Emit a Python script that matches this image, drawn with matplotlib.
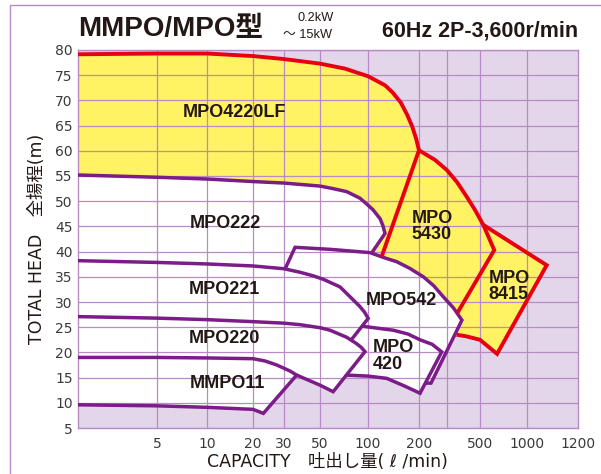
import numpy as np
import matplotlib
matplotlib.use('Agg')
import matplotlib.pyplot as plt
from matplotlib.patches import Rectangle

# capacity axis of the printed chart: roughly logarithmic but with its own spacing
axis_caps = [1.67, 5, 10, 20, 30, 50, 100, 200, 300, 500, 1000, 1200]
axis_pos = [0, 79, 129, 175, 206, 242, 290, 341, 369, 402, 449, 500]
x_ticks = [5, 10, 20, 30, 50, 100, 200, 500, 1000, 1200]
x_grid = [5, 10, 20, 30, 50, 100, 200, 300, 500, 1000]
y_ticks = list(range(5, 85, 5))

# red outlines (capacity l/min, head m)
lf_top_q = [1.67, 5, 10, 20, 30, 37.7, 50, 71.8, 100, 126, 139.5, 156, 170, 182, 192, 200]
lf_top_h = [79.15, 79.3, 79.3, 78.8, 78.2, 77.8, 77.3, 76.3, 74.8, 73.0, 71.6, 69.6, 67.2, 64.9, 62.5, 60.1]
m5430_right_q = [200, 252, 299, 350, 407, 462, 525]
m5430_right_h = [60.1, 58.2, 56.2, 53.8, 50.9, 48.3, 45.3]
m5430_left_q = [200, 120.4]
m5430_left_h = [60.1, 39.0]
m5430_split_q = [525, 617, 352]
m5430_split_h = [45.3, 40.3, 27.8]
m8415_q = [525, 1073, 643, 500, 403, 348]
m8415_h = [45.3, 37.3, 19.7, 22.5, 23.2, 23.5]

# purple outlines
p222_q = [1.67, 5, 10, 20, 30, 50, 60.3, 73.5, 89, 97.7, 107, 118, 122.6, 126, 105]
p222_h = [55.2, 54.75, 54.4, 53.9, 53.6, 53.0, 52.5, 51.9, 50.6, 49.5, 48.3, 46.5, 45.1, 43.6, 39.7]
p542_q = [30.4, 35.1, 57.8, 102.7, 124.3, 147.6, 177, 213, 248, 284, 332, 378, 238, 220]
p542_h = [36.5, 40.85, 40.45, 39.8, 38.8, 38.0, 36.65, 35.0, 33.2, 31.05, 28.8, 26.4, 13.9, 13.9]
p221_q = [1.67, 5, 10, 20, 30, 37.7, 45.3, 52.5, 66.7, 77.1, 89, 95, 100.3, 79]
p221_h = [38.2, 37.85, 37.55, 37.15, 36.6, 35.9, 35.2, 34.5, 33.0, 31.05, 29.1, 28.0, 26.75, 22.6]
p220_q = [1.67, 5, 10, 20, 30, 37.7, 50, 57.8, 73.5, 84.2, 90.7, 95.7, 60.5, 50, 35.9]
p220_h = [27.1, 26.8, 26.5, 26.1, 25.8, 25.5, 24.9, 24.4, 23.0, 21.8, 21.0, 20.15, 12.2, 13.5, 15.5]
p420_q = [91.6, 141, 172, 203, 242, 278, 203, 165, 129, 100, 73.3]
p420_h = [25.2, 24.4, 23.65, 22.5, 21.6, 20.1, 11.9, 13.3, 14.85, 15.3, 15.5]
p11_q = [1.67, 5, 10, 20, 23.4, 27.3, 32.7, 35.9, 22.9, 20, 10, 5, 1.67]
p11_h = [19.0, 19.0, 18.9, 18.75, 18.3, 17.5, 16.3, 15.5, 7.9, 8.7, 9.1, 9.4, 9.6]

# model labels: (text, capacity, head, align)
labels = [
    ('MPO4220LF', 15.2, 67.5, 'center'),
    ('MPO222', 13.1, 45.6, 'center'),
    ('MPO221', 12.9, 32.4, 'center'),
    ('MPO220', 13.1, 22.7, 'center'),
    ('MMPO11', 13.6, 13.9, 'center'),
    ('MPO542', 156.7, 30.2, 'center'),
    ('MPO\n420', 107, 19.3, 'left'),
    ('MPO\n5430', 181, 45.0, 'left'),
    ('MPO\n8415', 565, 33.1, 'left'),
]

RED = '#e60012'
PURPLE = '#7b1c89'
YELLOW = '#fff263'
LAVENDER = '#e4d6ea'
GRID = '#b88ac6'
TXT = '#231815'

log_caps = np.log10(axis_caps)


def fwd(x):
    x = np.clip(np.asarray(x, dtype=float), 1e-3, None)
    return np.interp(np.log10(x), log_caps, axis_pos)


def inv(p):
    return 10 ** np.interp(np.asarray(p, dtype=float), axis_pos, log_caps)


fig = plt.figure(figsize=(6.01, 4.74), dpi=100)
ax = fig.add_axes([78 / 601, 46 / 474, 500 / 601, 378 / 474])
ax.set_xscale('function', functions=(fwd, inv))
ax.set_xlim(1.67, 1200)
ax.set_ylim(5, 80)
ax.set_facecolor(LAVENDER)

# yellow area: red top, MPO5430 / MPO8415 outline, closed under the white area
n = len(p542_q)
yq = lf_top_q + m5430_right_q[1:] + m8415_q[1:] + p542_q[n - 3:4:-1] + p222_q[::-1]
yh = lf_top_h + m5430_right_h[1:] + m8415_h[1:] + p542_h[n - 3:4:-1] + p222_h[::-1]
ax.fill(yq, yh, color=YELLOW, lw=0, zorder=1)

# white area of the small models
wq = p222_q + p542_q[5:] + p420_q[6:] + p220_q[12:] + p11_q[8:]
wh = p222_h + p542_h[5:] + p420_h[6:] + p220_h[12:] + p11_h[8:]
ax.fill(wq, wh, color='white', lw=0, zorder=1)

# grid
for v in x_grid:
    ax.axvline(v, color=GRID, lw=0.9, zorder=1.5)
for v in y_ticks:
    ax.axhline(v, color=GRID, lw=0.9, zorder=1.5)

ax.set_xticks(x_ticks)
ax.set_xticklabels([str(v) for v in x_ticks])
ax.xaxis.set_minor_locator(matplotlib.ticker.NullLocator())
ax.set_yticks(y_ticks)
ax.tick_params(which='both', length=0)
ax.tick_params(axis='x', pad=6.5, labelsize=10, labelcolor='#3a3a3a')
ax.tick_params(axis='y', pad=3.8, labelsize=10, labelcolor='#3a3a3a')
for s in ax.spines.values():
    s.set_color(GRID)
    s.set_linewidth(1.0)

for q, h in [(p222_q, p222_h), (p221_q, p221_h), (p220_q, p220_h), (p11_q, p11_h),
             (p542_q, p542_h), (p420_q, p420_h)]:
    ax.plot(q, h, color=PURPLE, lw=2.5, solid_joinstyle='miter', solid_capstyle='butt', zorder=3)

for q, h in [(lf_top_q + m5430_right_q[1:] + m8415_q[1:], lf_top_h + m5430_right_h[1:] + m8415_h[1:]),
             (m5430_left_q, m5430_left_h), (m5430_split_q, m5430_split_h)]:
    ax.plot(q, h, color=RED, lw=2.8, solid_joinstyle='miter', solid_capstyle='butt', zorder=4)

for txt, q, h, al in labels:
    ax.text(q, h, txt, ha=al, va='center', fontsize=13, fontweight='bold',
            family='Liberation Sans', color=TXT, linespacing=0.95, zorder=5)

# titles
fam = ['Liberation Sans', 'Noto Sans CJK JP']
fig.text(78 / 601, 1 - 29 / 474, 'MMPO/MPO型', fontsize=20, fontweight='bold',
         family=fam, color=TXT, ha='left', va='center')
fig.text(297 / 601, 1 - 18 / 474, '0.2kW', fontsize=9.2, family=fam, color=TXT,
         ha='left', va='center')
fig.text(283 / 601, 1 - 35 / 474, '～ 15kW', fontsize=9.2, family=fam, color=TXT,
         ha='left', va='center')
fig.text(578 / 601, 1 - 31 / 474, '60Hz 2P-3,600r/min', fontsize=15.5, fontweight='bold',
         family=fam, color=TXT, ha='right', va='center')

lab_fam = ['DejaVu Sans', 'Noto Sans CJK JP']
fig.text(37 / 601, 1 - 239 / 474, 'TOTAL HEAD\u3000全揚程(m)', fontsize=12.5, family=lab_fam,
         color=TXT, rotation=90, ha='center', va='center')
fig.text(327 / 601, 1 - 462 / 474, 'CAPACITY\u3000吐出し量( ℓ /min)', fontsize=12.5, family=lab_fam,
         color=TXT, ha='center', va='center')

# outer frame of the sheet
fig.add_artist(Rectangle((10 / 601, -0.5), 2, 1 - 5 / 474 + 0.5, transform=fig.transFigure,
                         fill=False, edgecolor=GRID, lw=1.0, clip_on=False))

fig.savefig('out.png', dpi=100)
